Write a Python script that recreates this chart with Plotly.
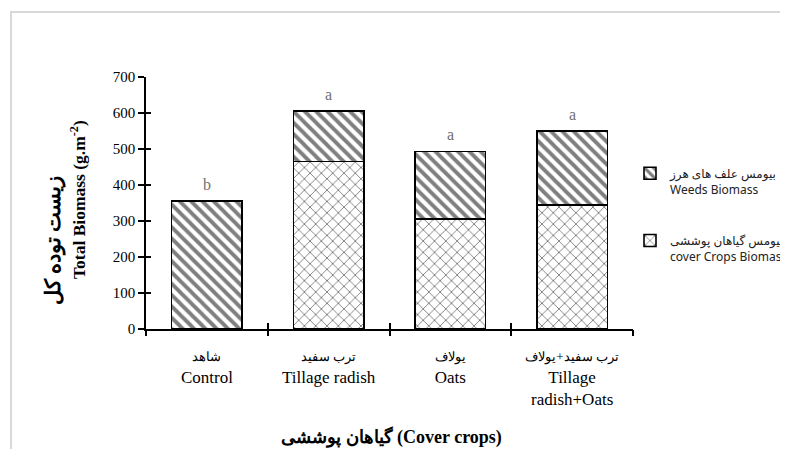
import plotly.graph_objects as go

categories = [
    "شاهد<br>Control",
    "ترب سفید<br>Tillage radish",
    "یولاف<br>Oats",
    "ترب سفید+یولاف<br>Tillage<br>radish+Oats",
]
cover_biomass = [0, 465, 305, 345]
weeds_biomass = [355, 140, 188, 205]
letters = ["b", "a", "a", "a"]
y_ticks = [0, 100, 200, 300, 400, 500, 600, 700]
series_names = ["بیومس گیاهان پوششی<br>cover Crops Biomass",
                "بیومس علف های هرز<br>Weeds Biomass"]
y_title_fa, y_title_en = "زیست توده کل", "Total Biomass (g.m<sup>-2</sup>)"
x_title = "گیاهان پوششی (Cover crops)"

LRM = "\u200e"
totals = [c + w for c, w in zip(cover_biomass, weeds_biomass)]

def fmt_cat(c):
    parts = c.split("<br>")
    return ("<span style='font-size:13px'>" + parts[0] + "</span><br>"
            + "<br>".join(parts[1:]))

cat_labels = [fmt_cat(c) for c in categories]
x_idx = list(range(len(categories)))
boundaries = [i - 0.5 for i in range(len(categories) + 1)]

SERIF = "Liberation Serif, Times New Roman, serif"
SANS = "Noto Sans, DejaVu Sans, sans-serif"

# page offset of the figure (body margin) and plot area in page pixels
OFF = 8
L, R, T, B = 146, 633, 77, 329
W, H = 788 - OFF, 457 - 2 * OFF
px = lambda v: (v - L) / (R - L)
py = lambda v: (B - v) / (B - T)

fig = go.Figure()
fig.add_trace(go.Bar(
    x=x_idx, y=cover_biomass, legendgroup="c", legendrank=2,
    name=LRM + series_names[0],
    marker=dict(color="white", line=dict(color="black", width=1.6),
                pattern=dict(shape="x", fgcolor="black", bgcolor="white", size=8, solidity=0.22)),
))
fig.add_trace(go.Bar(
    x=x_idx, y=weeds_biomass, legendgroup="w", legendrank=1,
    name=LRM + series_names[1],
    marker=dict(color="white", line=dict(color="black", width=1.6),
                pattern=dict(shape="\\", fgcolor="black", bgcolor="white", size=8, solidity=0.48)),
))
for ax in ("x2", "x3"):
    fig.add_trace(go.Scatter(x=[0], y=[0], xaxis=ax, yaxis="y2", mode="markers",
                             marker=dict(opacity=0), showlegend=False, hoverinfo="skip"))

for i, (t, l) in enumerate(zip(totals, letters)):
    fig.add_annotation(x=i, y=t, text=l, showarrow=False, yshift=17,
                       font=dict(family=SERIF, size=16, color="#707070"))

# axis titles
fig.add_annotation(xref="paper", yref="paper", x=px(391), y=py(437), text="<b>" + LRM + x_title + "</b>",
                   showarrow=False, xanchor="center", yanchor="middle",
                   font=dict(family=SERIF, size=18, color="black"))
fig.add_annotation(xref="paper", yref="paper", x=px(53), y=py(203), yshift=-37,
                   text="<b>" + y_title_fa + "</b>",
                   showarrow=False, textangle=-90, xanchor="center", yanchor="middle",
                   font=dict(family=SERIF, size=21, color="black"))
fig.add_annotation(xref="paper", yref="paper", x=px(78), y=py(200), text="<b>" + y_title_en + "</b>",
                   showarrow=False, textangle=-90, xanchor="center", yanchor="middle",
                   font=dict(family=SERIF, size=17.5, color="black"))

# frame (top and left edges of the pasted picture)
fig.add_shape(type="line", xref="paper", yref="paper", x0=px(10), x1=px(900), y0=py(12), y1=py(12),
              line=dict(color="#d8d8d8", width=2), layer="below")
fig.add_shape(type="line", xref="paper", yref="paper", x0=px(11), x1=px(11), y0=py(12), y1=py(600),
              line=dict(color="#d8d8d8", width=2), layer="below")

tick_common = dict(tickcolor="black", tickwidth=1.5, showticklabels=False,
                   showgrid=False, zeroline=False, showline=False)

fig.update_layout(
    width=W, height=H,
    margin=dict(l=L - OFF, r=W - (R - OFF), t=T - OFF, b=H - (B - OFF), autoexpand=False),
    paper_bgcolor="white", plot_bgcolor="rgba(0,0,0,0)",
    barmode="stack", bargap=0.42,
    showlegend=True,
    legend=dict(x=px(630), xanchor="left", y=py(159), yanchor="top",
                traceorder="grouped", valign="top", itemwidth=30,
                font=dict(family=SANS, size=12, color="#222"),
                tracegroupgap=33, bgcolor="rgba(0,0,0,0)"),
    xaxis=dict(tickmode="array", tickvals=x_idx, ticktext=cat_labels,
               range=[-0.5, 3.5], showline=True, linecolor="black", linewidth=1.5,
               ticks="", showgrid=False, zeroline=False, ticklabelstandoff=10,
               tickfont=dict(family=SERIF, size=17, color="black")),
    xaxis2=dict(overlaying="x", anchor="y", side="bottom", range=[-0.5, 3.5],
                tickmode="array", tickvals=boundaries, ticks="outside", ticklen=6,
                **tick_common),
    xaxis3=dict(overlaying="x", anchor="y", side="bottom", range=[-0.5, 3.5],
                tickmode="array", tickvals=boundaries, ticks="inside", ticklen=6,
                **tick_common),
    yaxis=dict(range=[0, 700], tickmode="array", tickvals=y_ticks,
               showline=True, linecolor="black", linewidth=1.5,
               ticks="outside", ticklen=6, tickcolor="black", tickwidth=1.5,
               showgrid=False, zeroline=False,
               tickfont=dict(family=SERIF, size=15, color="black")),
    yaxis2=dict(overlaying="y", anchor="x", side="left", range=[0, 700],
                tickmode="array", tickvals=y_ticks, ticks="inside", ticklen=5,
                **tick_common),
)

fig.write_html("out.html")
